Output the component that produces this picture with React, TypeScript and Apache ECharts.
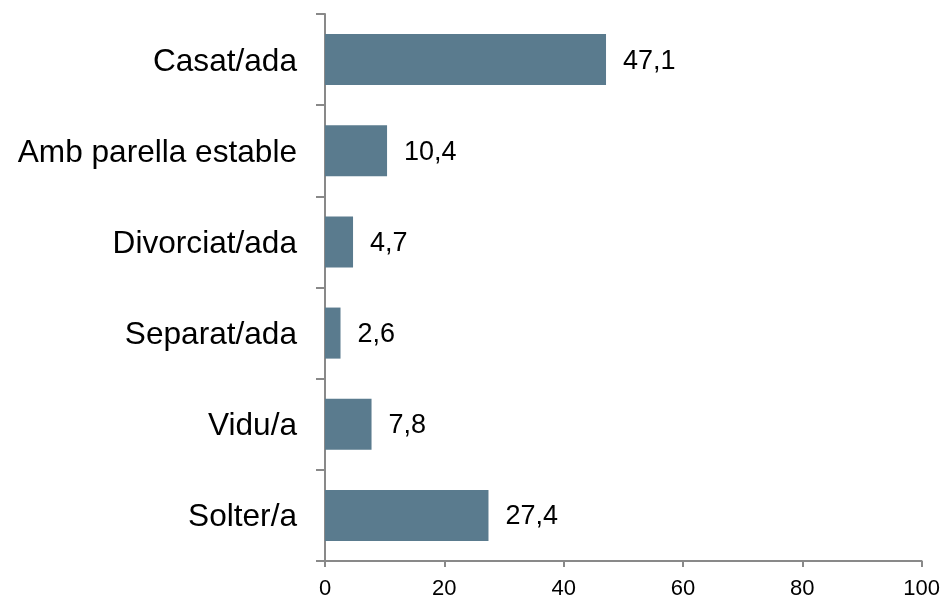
import React, { useEffect, useRef } from "react";
import * as echarts from "echarts";

const categories = ["Solter/a", "Vidu/a", "Separat/ada", "Divorciat/ada", "Amb parella estable", "Casat/ada"];
const values = [27.4, 7.8, 2.6, 4.7, 10.4, 47.1];
const xTicks = [0, 20, 40, 60, 80, 100];

export default function App() {
  const ref = useRef<HTMLDivElement>(null);
  useEffect(() => {
    if (!ref.current) return;
    const chart = echarts.init(ref.current, null, { renderer: "svg" });
    const axisColor = "#898989";
    const font = "Liberation Sans, Arial, sans-serif";
    chart.setOption({
      animation: false,
      grid: { left: 325, right: 21, top: 14, bottom: 37, containLabel: false },
      xAxis: {
        type: "value",
        min: xTicks[0],
        max: xTicks[xTicks.length - 1],
        interval: 20,
        axisLine: { show: true, lineStyle: { color: axisColor, width: 2 } },
        axisTick: { show: true, length: 6, lineStyle: { color: axisColor, width: 2 } },
        splitLine: { show: false },
        axisLabel: { color: "#000", fontSize: 22, fontFamily: font, margin: 15 },
      },
      yAxis: {
        type: "category",
        data: categories,
        axisLine: { show: true, lineStyle: { color: axisColor, width: 2 } },
        axisTick: { show: true, length: 9, lineStyle: { color: axisColor, width: 2 } },
        axisLabel: { color: "#000", fontSize: 31.6, fontFamily: font, margin: 28 },
      },
      series: [
        {
          type: "bar",
          data: values,
          barCategoryGap: "44%",
          itemStyle: { color: "#5a7b8e" },
          label: {
            show: true,
            position: "right",
            distance: 17,
            color: "#000",
            fontSize: 27,
            fontFamily: font,
            formatter: (p: any) => String(p.value).replace(".", ","),
          },
        },
      ],
    });
    return () => chart.dispose();
  }, []);
  return <div ref={ref} style={{ width: 943, height: 598, position: "fixed", left: 0, top: 0 }} />;
}
